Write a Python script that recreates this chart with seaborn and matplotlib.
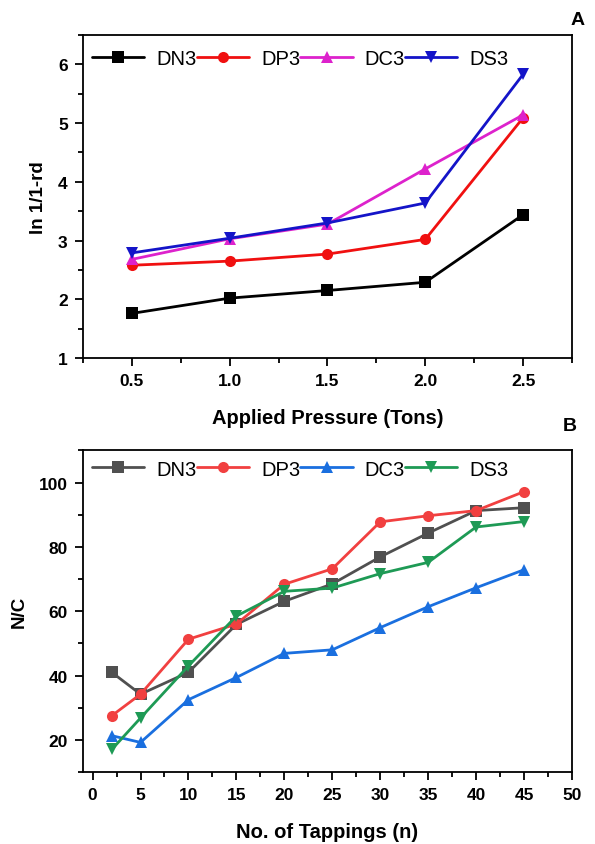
import numpy as np
import pandas as pd
import matplotlib.pyplot as plt
import matplotlib as mpl
import seaborn as sns
from matplotlib.ticker import MultipleLocator

sns.set_style('ticks')
plt.rcParams['font.family'] = ['Liberation Sans', 'DejaVu Sans']
plt.rcParams['text.color'] = 'black'
plt.rcParams['axes.labelcolor'] = 'black'
plt.rcParams['xtick.color'] = 'black'
plt.rcParams['ytick.color'] = 'black'

names = ['DN3', 'DP3', 'DC3', 'DS3']
marks = ['s', 'o', '^', 'v']

# panel A: ln 1/1-rd vs applied pressure
pressure = [0.5, 1.0, 1.5, 2.0, 2.5]
dn3_a = [1.76, 2.02, 2.15, 2.29, 3.44]
dp3_a = [2.58, 2.65, 2.77, 3.02, 5.09]
dc3_a = [2.68, 3.03, 3.28, 4.22, 5.14]
ds3_a = [2.79, 3.04, 3.30, 3.64, 5.83]
colors_a = ['#000000', '#F01010', '#DD22CC', '#1414C8']

# panel B: N/C vs number of tappings
taps = [2, 5, 10, 15, 20, 25, 30, 35, 40, 45]
dn3_b = [41.0, 34.2, 41.0, 55.9, 63.1, 68.5, 76.9, 84.3, 91.3, 92.2]
dp3_b = [27.5, 34.2, 51.3, 56.0, 68.4, 73.2, 87.8, 89.7, 91.3, 97.2]
dc3_b = [21.3, 19.2, 32.5, 39.4, 46.9, 48.0, 54.9, 61.4, 67.3, 72.9]
ds3_b = [17.0, 26.8, 43.0, 58.5, 66.2, 67.2, 71.7, 75.2, 86.2, 87.9]
colors_b = ['#505050', '#F14040', '#1A6FDF', '#1E9A55']

dfa = pd.DataFrame({'x': pressure * 4,
                    'y': dn3_a + dp3_a + dc3_a + ds3_a,
                    'sample': np.repeat(names, len(pressure))})
dfb = pd.DataFrame({'x': taps * 4,
                    'y': dn3_b + dp3_b + dc3_b + ds3_b,
                    'sample': np.repeat(names, len(taps))})

fig = plt.figure(figsize=(5.95, 8.45), dpi=100)
ax1 = fig.add_axes([0.1395, 0.5751, 0.8218, 0.3823])
ax2 = fig.add_axes([0.1395, 0.0852, 0.8218, 0.3805])

def draw(ax, df, cols, top):
    sns.lineplot(data=df, x='x', y='y', hue='sample', style='sample',
                 hue_order=names, style_order=names,
                 palette=dict(zip(names, cols)), markers=dict(zip(names, marks)),
                 dashes=False, lw=2.0, markersize=8, markeredgewidth=0,
                 legend=False, ax=ax)
    ax.legend(handles=ax.lines[:4], labels=names, loc='upper left', ncol=4,
              frameon=False, fontsize=14.5, handlelength=2.6, handletextpad=0.6,
              columnspacing=0.0, borderaxespad=0.15, borderpad=0.3,
              bbox_to_anchor=(0.0, top))
    for s in ax.spines.values():
        s.set_linewidth(1.3)
        s.set_color('black')
    ax.tick_params(which='major', direction='out', length=6, width=1.3,
                   labelsize=12.5, pad=5, top=False, right=False)
    ax.tick_params(which='minor', direction='out', length=3.5, width=1.3,
                   top=False, right=False)

draw(ax1, dfa, colors_a, 0.985)
ax1.set_xlim(0.25, 2.75)
ax1.set_ylim(1, 6.5)
ax1.xaxis.set_major_locator(MultipleLocator(0.5))
ax1.xaxis.set_minor_locator(MultipleLocator(0.25))
ax1.yaxis.set_major_locator(MultipleLocator(1))
ax1.yaxis.set_minor_locator(MultipleLocator(0.5))
ax1.xaxis.set_major_formatter(mpl.ticker.FormatStrFormatter('%.1f'))
for lab in ax1.get_xticklabels() + ax1.get_yticklabels():
    lab.set_fontweight('bold')
ax1.set_xlabel('Applied Pressure (Tons)', fontsize=14.5, fontweight='bold', labelpad=14)
ax1.set_ylabel('ln 1/1-rd', fontsize=13.5, fontweight='bold', labelpad=8)

draw(ax2, dfb, colors_b, 1.0)
ax2.set_xlim(-1, 50)
ax2.set_ylim(10, 110)
ax2.xaxis.set_major_locator(MultipleLocator(5))
ax2.xaxis.set_minor_locator(MultipleLocator(2.5))
ax2.yaxis.set_major_locator(MultipleLocator(20))
ax2.yaxis.set_minor_locator(MultipleLocator(10))
for lab in ax2.get_xticklabels() + ax2.get_yticklabels():
    lab.set_fontweight('bold')
ax2.set_xlabel('No. of Tappings (n)', fontsize=14.5, fontweight='bold', labelpad=14)
ax2.set_ylabel('N/C', fontsize=13.5, fontweight='bold', labelpad=8)

fig.text(0.970, 0.976, 'A', fontsize=14, fontweight='bold', ha='center', va='center')
fig.text(0.958, 0.495, 'B', fontsize=14, fontweight='bold', ha='center', va='center')

fig.savefig('out.png', dpi=100)
